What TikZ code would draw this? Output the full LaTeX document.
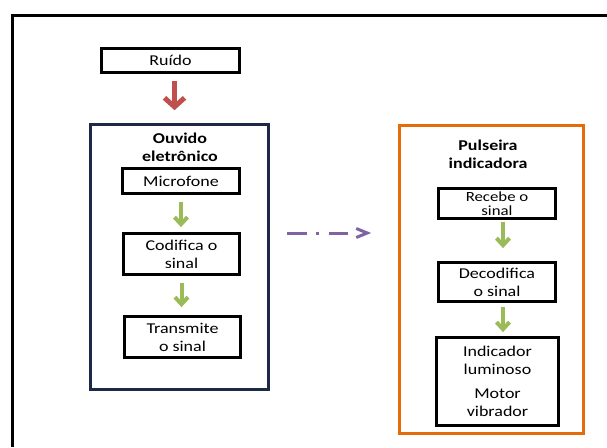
\documentclass[tikz,border=0pt]{standalone}
\usepackage{fontspec}
\setmainfont{Carlito}[FakeStretch=1.2]
\usetikzlibrary{positioning, arrows.meta}
\definecolor{noisered}{RGB}{192,80,77}
\definecolor{stepgreen}{RGB}{155,187,89}
\definecolor{linkpurple}{RGB}{128,100,162}
\definecolor{earblue}{RGB}{28,42,72}
\definecolor{bandorange}{RGB}{228,108,10}

\begin{document}
\begin{tikzpicture}[x=1pt, y=-1pt,
  every node/.style={font=\fontsize{15}{18}\selectfont, align=center, inner sep=0pt},
  stepbox/.style={draw=black, line width=2.8pt, rectangle},
  groupbox/.style={line width=2.6pt, rectangle},
  grouptitle/.style={font=\fontsize{15}{18}\selectfont\bfseries},
  redarrow/.style={draw=noisered, line width=5pt, -{Straight Barb[length=9pt, width=20pt]}},
  greenarrow/.style={draw=stepgreen, line width=4pt, -{Straight Barb[length=7pt, width=13pt]}},
  linkarrow/.style={draw=linkpurple, line width=3pt,
    dash pattern=on 20pt off 9pt on 3pt off 10pt on 19pt off 40pt,
    -{Straight Barb[length=11pt, width=9pt]}},
]
  \useasboundingbox (0,0) rectangle (607,447);
  \draw[line width=3pt] (12,447) |- (607,15);

  \node[stepbox, minimum width=138pt, minimum height=24pt] (ruido) at (170.5,60.5) {Ruído};

  \node[groupbox, draw=earblue, minimum width=178pt, minimum height=265pt] (ouvido) at (179.5,257) {};
  \node[grouptitle] (ouvidotitle) at (180,147) {Ouvido\\eletrônico};
  \node[stepbox, minimum width=117pt, minimum height=25pt] (micro) at (181,181) {Microfone};
  \node[stepbox, minimum width=116pt, minimum height=41pt] (codifica) at (181.5,254) {Codifica o\\sinal};
  \node[stepbox, minimum width=116pt, minimum height=41pt] (transmite) at (182.5,337) {Transmite\\o sinal};

  \node[groupbox, draw=bandorange, minimum width=184pt, minimum height=308pt] (pulseira) at (491.5,279.5) {};
  \node[grouptitle] (pulseiratitle) at (488,154) {Pulseira\\indicadora};
  \node[stepbox, minimum width=117pt, minimum height=30pt, font=\fontsize{14}{13.5}\selectfont] (recebe) at (497,203.5) {Recebe o\\sinal};
  \node[stepbox, minimum width=117pt, minimum height=39pt] (decodifica) at (497,282) {Decodifica\\o sinal};
  \node[stepbox, minimum width=122pt, minimum height=88pt] (saida) at (497.5,381.5) {Indicador\\luminoso\\[6pt]Motor\\vibrador};

  \draw[redarrow, shorten <=7pt, shorten >=13pt] ([xshift=4pt]ruido.south) -- ([xshift=4pt]ruido.south |- ouvido.north);
  \draw[greenarrow, shorten <=7pt, shorten >=5pt] (micro.south) -- (micro.south |- codifica.north);
  \draw[greenarrow, shorten <=7pt, shorten >=8pt] (codifica.south) -- (codifica.south |- transmite.north);
  \draw[greenarrow, shorten <=2pt, shorten >=13pt] ([xshift=6pt]recebe.south) -- ([xshift=6pt]recebe.south |- decodifica.north);
  \draw[greenarrow, shorten <=4pt, shorten >=4pt] ([xshift=6pt]decodifica.south) -- ([xshift=6pt]decodifica.south |- saida.north);
  \draw[linkarrow, shorten <=17pt, shorten >=27pt] ([yshift=24pt]ouvido.east) -- ([yshift=24pt]ouvido.east -| pulseira.west);
\end{tikzpicture}
\end{document}
